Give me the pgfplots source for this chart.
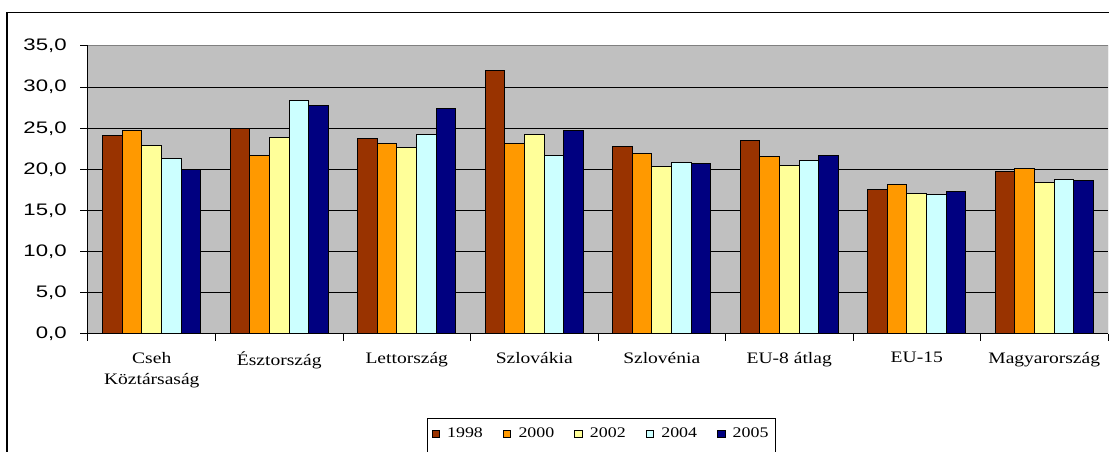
\documentclass[border=0pt]{standalone}
\usepackage{fontspec}
\setmainfont{Liberation Serif}
\newfontfamily\ylabfont[FakeStretch=1.33]{Liberation Sans}
\newfontfamily\xlabfont[FakeStretch=1.22]{Liberation Serif}
\usepackage{pgfplots}
\pgfplotsset{compat=1.18}
\usepackage{pgfplotstable}
\definecolor{cA}{HTML}{993300}
\definecolor{cB}{HTML}{FF9900}
\definecolor{cC}{HTML}{FFFF99}
\definecolor{cD}{HTML}{CCFFFF}
\definecolor{cE}{HTML}{000080}
\definecolor{bgg}{HTML}{C0C0C0}
\definecolor{frameg}{HTML}{808080}
\pgfplotstableread{
x y1998 y2000 y2002 y2004 y2005
0 24.1 24.7 22.9 21.3 20.0
1 25.0 21.7 23.9 28.4 27.8
2 23.7 23.1 22.7 24.2 27.4
3 32.0 23.1 24.2 21.7 24.7
4 22.8 21.9 20.4 20.9 20.7
5 23.5 21.6 20.5 21.1 21.7
6 17.6 18.2 17.1 16.9 17.3
7 19.8 20.1 18.4 18.8 18.6
}\data
\begin{document}
\begin{tikzpicture}
\useasboundingbox (0,0) rectangle (831.75pt,339pt);
\draw[line width=1.1pt] (5.25pt,-20pt) -- (5.25pt,329.5pt) -- (850pt,329.5pt);
\begin{axis}[
  at={(66pt,88.5pt)}, anchor=south west,
  scale only axis, width=765pt, height=216pt,
  xmin=-0.5, xmax=7.5, ymin=0, ymax=35,
  enlargelimits=false,
  axis background/.style={fill=bgg},
  axis x line*=bottom, axis y line*=left,
  axis line style={black, line width=0.75pt, -},
  ybar=0pt, bar width=14.7pt,
  ytick={0,5,...,35},
  ymajorgrids, major grid style={black, line width=0.75pt},
  tick align=outside,
  major tick length=6pt, minor tick length=5pt,
  tick style={black, line width=0.75pt},
  every major x tick/.append style={draw=none},
  xtick={0,...,7},
  minor xtick={-0.5,0.5,...,7.5},
  xticklabels={{Cseh\\Köztársaság},Észtország,Lettország,Szlovákia,Szlovénia,EU-8 átlag,EU-15,Magyarország},
  xticklabel style={align=center, yshift=-4pt, font=\fontsize{12pt}{16pt}\xlabfont},
  yticklabel style={xshift=-6.5pt, font=\fontsize{12.5pt}{14pt}\ylabfont, /pgf/number format/.cd, fixed, fixed zerofill, precision=1, use comma, assume math mode=true},
  legend columns=5,
  legend style={at={(0.3324,-0.2917)}, anchor=north west, draw=black, line width=0.75pt,
    font=\fontsize{11pt}{13pt}\xlabfont, inner xsep=3pt, inner ysep=5pt,
    /tikz/every odd column/.append style={column sep=3.5pt},
    /tikz/every even column/.append style={column sep=13pt}},
  legend image code/.code={\draw[#1, draw=black, line width=0.6pt] (0pt,-2.8pt) rectangle (5.6pt,2.8pt);},
]
\addplot[fill=cA, draw=black, line width=0.75pt] table[x=x,y=y1998]{\data};
\addplot[fill=cB, draw=black, line width=0.75pt] table[x=x,y=y2000]{\data};
\addplot[fill=cC, draw=black, line width=0.75pt] table[x=x,y=y2002]{\data};
\addplot[fill=cD, draw=black, line width=0.75pt] table[x=x,y=y2004]{\data};
\addplot[fill=cE, draw=black, line width=0.75pt] table[x=x,y=y2005]{\data};
\addlegendimage{empty legend}
\legend{1998,2000,2002,2004,2005,\rule{0pt}{16pt}}
\draw[frameg, line width=0.75pt] (rel axis cs:0,1) -- (rel axis cs:1,1) -- (rel axis cs:1,0);
\end{axis}
\end{tikzpicture}
\end{document}
